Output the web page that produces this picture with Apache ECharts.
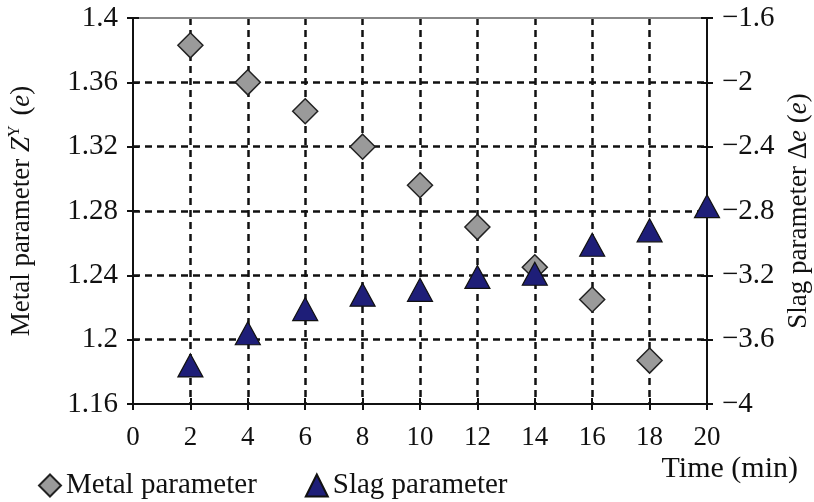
<!DOCTYPE html>
<html>
<head>
<meta charset="utf-8">
<script src="https://cdn.jsdelivr.net/npm/echarts@6/dist/echarts.min.js"></script>
<style>
html,body{margin:0;padding:0;background:#fff;}
#c{width:814px;height:502px;}
</style>
</head>
<body>
<div id="c"></div>
<script>
// Data
const timeMin = [2, 4, 6, 8, 10, 12, 14, 16, 18, 20];
const metalTime = [2, 4, 6, 8, 10, 12, 14, 16, 18];
const metalParam = [1.383, 1.360, 1.342, 1.320, 1.296, 1.270, 1.245, 1.225, 1.187];
const slagParam = [-3.76, -3.56, -3.41, -3.32, -3.29, -3.21, -3.19, -3.01, -2.92, -2.77];
const leftTicks = [1.16, 1.4, 0.04];
const rightTicks = [-4, -1.6, 0.4];
const xTicks = [0, 20, 2];

const FONT = '"Liberation Serif", "DejaVu Serif", serif';
const fmtNum = v => String(+v.toFixed(2)).replace('-', '\u2212');

const chart = echarts.init(document.getElementById('c'));
const black = '#111';
const gridLine = {show: true, showMinLine: false, showMaxLine: false,
  lineStyle: {color: '#111', type: [7, 5], width: 2.5}};

chart.setOption({
  animation: false,
  grid: {left: 133, right: 107, top: 18, bottom: 98, containLabel: false, outerBoundsMode: 'none'},
  legend: {
    left: 33, top: 466, itemWidth: 22, itemHeight: 22, itemGap: 48,
    textStyle: {fontFamily: FONT, fontSize: 29, color: '#111'},
    data: [
      {name: 'Metal parameter', icon: 'diamond'},
      {name: 'Slag parameter', icon: 'triangle'}
    ]
  },
  xAxis: [
    {type: 'value', min: xTicks[0], max: xTicks[1], interval: xTicks[2], position: 'bottom',
     axisLine: {onZero: false, lineStyle: {color: black, width: 2}},
     axisTick: {length: 6, lineStyle: {color: black, width: 2}},
     axisLabel: {margin: 20, fontFamily: FONT, fontSize: 27, color: '#111'},
     splitLine: gridLine},
    {type: 'value', min: xTicks[0], max: xTicks[1], interval: xTicks[2], position: 'bottom',
     axisLine: {show: false, onZero: false},
     axisTick: {inside: true, length: 6, lineStyle: {color: black, width: 2}},
     axisLabel: {show: false}, splitLine: {show: false}},
    {type: 'value', min: xTicks[0], max: xTicks[1], position: 'top',
     axisLine: {onZero: false, lineStyle: {color: '#888', width: 2}},
     axisTick: {show: false}, axisLabel: {show: false}, splitLine: {show: false}}
  ],
  yAxis: [
    {type: 'value', min: leftTicks[0], max: leftTicks[1], interval: leftTicks[2], position: 'left',
     axisLine: {show: true, onZero: false, lineStyle: {color: black, width: 2}},
     axisTick: {show: true, length: 6, lineStyle: {color: black, width: 2}},
     axisLabel: {margin: 15, fontFamily: FONT, fontSize: 29, color: '#111', formatter: fmtNum},
     splitLine: gridLine,
     name: 'Metal parameter {i|Z}{sup|Y} ({i|e})',
     nameLocation: 'middle', nameGap: 97,
     nameTextStyle: {fontFamily: FONT, fontSize: 27, color: '#111',
       rich: {
         i: {fontFamily: FONT, fontSize: 27, fontStyle: 'italic', color: '#111'},
         sup: {fontFamily: FONT, fontSize: 16, color: '#111', padding: [0, 3, 13, 0]}
       }}},
    {type: 'value', min: rightTicks[0], max: rightTicks[1], interval: rightTicks[2], position: 'right',
     axisLine: {show: true, onZero: false, lineStyle: {color: black, width: 2}},
     axisTick: {show: true, length: 6, lineStyle: {color: black, width: 2}},
     axisLabel: {margin: 15, fontFamily: FONT, fontSize: 29, color: '#111', formatter: fmtNum},
     splitLine: {show: false},
     name: 'Slag parameter \u0394{i|e} ({i|e})',
     nameLocation: 'middle', nameGap: 76,
     nameTextStyle: {fontFamily: FONT, fontSize: 27, color: '#111',
       rich: {i: {fontFamily: FONT, fontSize: 27, fontStyle: 'italic', color: '#111'}}}},
    {type: 'value', min: leftTicks[0], max: leftTicks[1], interval: leftTicks[2], position: 'left',
     axisLine: {show: false, onZero: false},
     axisTick: {show: true, inside: true, length: 6, lineStyle: {color: black, width: 2}},
     axisLabel: {show: false}, splitLine: {show: false}},
    {type: 'value', min: rightTicks[0], max: rightTicks[1], interval: rightTicks[2], position: 'right',
     axisLine: {show: false, onZero: false},
     axisTick: {show: true, inside: true, length: 6, lineStyle: {color: black, width: 2}},
     axisLabel: {show: false}, splitLine: {show: false}}
  ],
  graphic: [
    {type: 'text', right: 16, top: 454,
     style: {text: 'Time (min)', fontFamily: FONT, fontSize: 30, fill: '#111'}}
  ],
  series: [
    {name: 'Metal parameter', type: 'scatter', xAxisIndex: 0, yAxisIndex: 0,
     symbol: 'diamond', symbolSize: 25, z: 5,
     itemStyle: {color: '#9a9a9a', borderColor: '#222', borderWidth: 1.5, opacity: 1},
     data: metalTime.map((t, i) => [t, metalParam[i]])},
    {name: 'Slag parameter', type: 'scatter', xAxisIndex: 0, yAxisIndex: 1,
     symbol: 'triangle', symbolSize: [25, 23], z: 6,
     itemStyle: {color: '#1e1e78', borderColor: '#111', borderWidth: 1.2, opacity: 1},
     data: timeMin.map((t, i) => [t, slagParam[i]])}
  ]
});
</script>
</body>
</html>
